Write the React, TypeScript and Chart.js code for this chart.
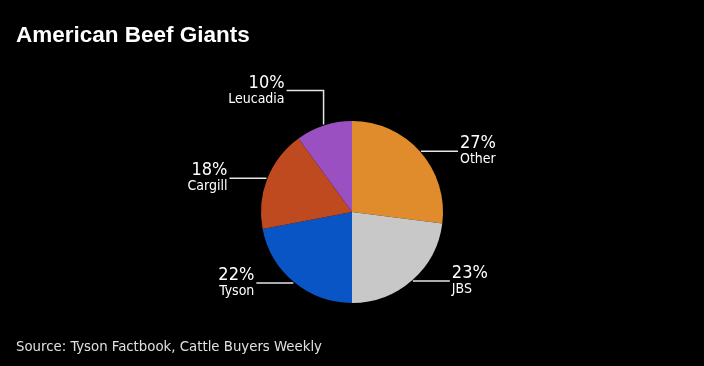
import React, { useEffect, useRef } from "react";
import { Chart, registerables } from "chart.js";

Chart.register(...registerables);

const categories = ["Other", "JBS", "Tyson", "Cargill", "Leucadia"];
const shares = [27, 23, 22, 18, 10];
const colors = ["#E08C2C", "#C8C8C8", "#0A55C5", "#C04A20", "#9A50C0"];
const titleText = "American Beef Giants";
const sourceText = "Source: Tyson Factbook, Cattle Buyers Weekly";

const labelFont = '"Liberation Sans Narrow", "DejaVu Sans Condensed", "Open Sans", sans-serif';

const leaderPlugin = {
  id: "leaders",
  afterDatasetsDraw(chart: any) {
    const ctx = chart.ctx;
    const meta = chart.getDatasetMeta(0);
    ctx.save();
    ctx.strokeStyle = "#E6E6E6";
    ctx.lineWidth = 1.5;
    ctx.fillStyle = "#FFFFFF";
    meta.data.forEach((arc: any, i: number) => {
      const { x, y, startAngle, endAngle, outerRadius } = arc.getProps(
        ["x", "y", "startAngle", "endAngle", "outerRadius"],
        true
      );
      const mid = (startAngle + endAngle) / 2;
      const ex = x + Math.cos(mid) * (outerRadius + 1);
      const ey = y + Math.sin(mid) * (outerRadius + 1);
      const right = Math.cos(mid) >= 0;
      const len = 37;
      let lx: number, ly: number;
      ctx.beginPath();
      if (categories[i] === "Leucadia") {
        const vy = ey - 34;
        ctx.moveTo(ex, ey);
        ctx.lineTo(ex, vy);
        ctx.lineTo(ex - len, vy);
        lx = ex - len - 2;
        ly = vy;
      } else {
        ctx.moveTo(ex, ey);
        const tx = right ? ex + len : ex - len;
        ctx.lineTo(tx, ey);
        lx = right ? tx + 2 : tx - 2;
        ly = ey;
      }
      ctx.stroke();
      ctx.textAlign = right && categories[i] !== "Leucadia" ? "left" : "right";
      ctx.textBaseline = "alphabetic";
      ctx.font = "18px " + labelFont;
      ctx.fillText(shares[i] + "%", lx, ly - 3);
      ctx.font = "14px " + labelFont;
      ctx.fillText(categories[i], lx, ly + 12);
    });
    ctx.restore();
  },
};

export default function App() {
  const ref = useRef<HTMLCanvasElement>(null);
  useEffect(() => {
    if (!ref.current) return;
    const chart = new Chart(ref.current, {
      type: "pie",
      data: {
        labels: categories,
        datasets: [
          {
            data: shares,
            backgroundColor: colors,
            borderWidth: 0,
          },
        ],
      },
      options: {
        responsive: false,
        animation: false,
        layout: { padding: { left: 261, right: 261, top: 121, bottom: 63 } },
        plugins: {
          legend: { display: false },
          tooltip: { enabled: false },
          title: { display: false },
        },
      },
      plugins: [leaderPlugin],
    });
    return () => chart.destroy();
  }, []);
  return (
    <div
      style={{
        position: "fixed",
        left: 0,
        top: 0,
        width: 704,
        height: 366,
        background: "#000",
        overflow: "hidden",
      }}
    >
      <canvas ref={ref} width={704} height={366} style={{ position: "absolute", left: 0, top: 0 }} />
      <div
        style={{
          position: "absolute",
          left: 16,
          top: 22,
          color: "#FFFFFF",
          fontFamily: '"Liberation Sans", Arial, sans-serif',
          fontWeight: "bold",
          fontSize: 22.5,
          lineHeight: "25px",
          whiteSpace: "nowrap",
        }}
      >
        {titleText}
      </div>
      <div
        style={{
          position: "absolute",
          left: 16,
          top: 337,
          color: "#E0E0E0",
          fontFamily: labelFont,
          fontSize: 14.8,
          lineHeight: "17px",
          whiteSpace: "nowrap",
        }}
      >
        {sourceText}
      </div>
    </div>
  );
}
